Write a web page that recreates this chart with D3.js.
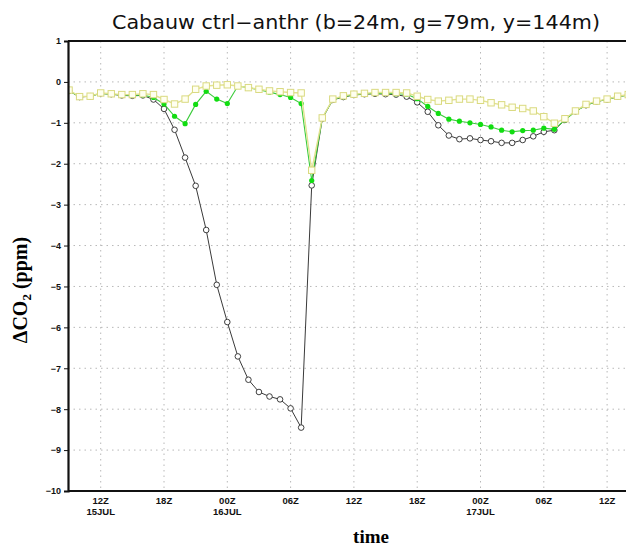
<!DOCTYPE html>
<html>
<head>
<meta charset="utf-8">
<script src="https://cdn.jsdelivr.net/npm/d3@7"></script>
<style>
  html, body { margin: 0; padding: 0; background: #fff; }
  svg { display: block; }
</style>
</head>
<body>
<div id="chart"></div>
<script>
// ---- data (hourly, starting 09Z 15JUL) ----
const startTime = "2000-07-15T09:00:00Z";
const seriesNames = ["b=24m", "g=79m", "y=144m"];
const blackValues = [-0.22,-0.37,-0.35,-0.28,-0.30,-0.33,-0.34,-0.33,-0.43,-0.66,-1.17,-1.85,-2.54,-3.62,-4.96,-5.87,-6.71,-7.28,-7.58,-7.69,-7.76,-7.98,-8.45,-2.53,-0.90,-0.44,-0.37,-0.32,-0.30,-0.29,-0.30,-0.31,-0.36,-0.50,-0.73,-1.06,-1.31,-1.40,-1.38,-1.42,-1.45,-1.49,-1.49,-1.42,-1.33,-1.22,-1.18,-0.93,-0.72,-0.57,-0.48,-0.43,-0.36,-0.32];
const greenValues = [-0.22,-0.36,-0.35,-0.28,-0.30,-0.32,-0.33,-0.32,-0.38,-0.54,-0.84,-1.02,-0.55,-0.23,-0.42,-0.53,-0.10,-0.14,-0.19,-0.25,-0.31,-0.38,-0.53,-2.41,-0.89,-0.43,-0.36,-0.31,-0.29,-0.28,-0.28,-0.29,-0.30,-0.41,-0.60,-0.77,-0.91,-0.96,-1.00,-1.04,-1.10,-1.18,-1.22,-1.19,-1.18,-1.13,-1.16,-0.93,-0.72,-0.57,-0.48,-0.43,-0.36,-0.32];
const yellowValues = [-0.20,-0.36,-0.35,-0.27,-0.29,-0.31,-0.31,-0.29,-0.31,-0.43,-0.54,-0.42,-0.18,-0.10,-0.08,-0.07,-0.10,-0.14,-0.18,-0.22,-0.24,-0.26,-0.27,-2.16,-0.88,-0.42,-0.34,-0.30,-0.28,-0.26,-0.26,-0.26,-0.27,-0.35,-0.43,-0.47,-0.45,-0.42,-0.42,-0.45,-0.51,-0.56,-0.62,-0.65,-0.71,-0.85,-1.01,-0.90,-0.71,-0.55,-0.47,-0.42,-0.35,-0.31];
const xTickTimes = ["2000-07-15T12:00:00Z","2000-07-15T18:00:00Z","2000-07-16T00:00:00Z","2000-07-16T06:00:00Z","2000-07-16T12:00:00Z","2000-07-16T18:00:00Z","2000-07-17T00:00:00Z","2000-07-17T06:00:00Z","2000-07-17T12:00:00Z"];
const xTickLabels = ["12Z","18Z","00Z","06Z","12Z","18Z","00Z","06Z","12Z"];
const xTickDates = ["15JUL","","16JUL","","","","17JUL","",""];
const yTicks = [1,0,-1,-2,-3,-4,-5,-6,-7,-8,-9,-10];
const titleText = "Cabauw ctrl\u2212anthr (b=24m, g=79m, y=144m)";
const yLabelText = "\u0394CO";
const xLabelText = "time";

// ---- layout ----
const W = 626, H = 548;
const plot = { left: 68, right: 627, top: 41, bottom: 491 };
const t0 = new Date(startTime);
const hour = 3600 * 1000;
const times = blackValues.map((_, i) => new Date(t0.getTime() + i * hour));

const x = d3.scaleUtc()
  .domain([new Date(t0.getTime() - 0.1 * hour), new Date(t0.getTime() + 52.9 * hour)])
  .range([plot.left, plot.left + 53 * 10.55]);
const y = d3.scaleLinear().domain([-10, 1]).range([plot.bottom, plot.top]);

const svg = d3.select("#chart").append("svg")
  .attr("width", W).attr("height", H)
  .style("background", "#fff");

svg.append("defs").append("clipPath").attr("id", "clip")
  .append("rect").attr("x", plot.left).attr("y", plot.top - 5)
  .attr("width", W - plot.left).attr("height", plot.bottom - plot.top + 10);

// gridlines
const grid = svg.append("g");
grid.selectAll("line.h").data(yTicks.filter(v => v !== 1 && v !== -10)).join("line")
  .attr("x1", plot.left).attr("x2", W)
  .attr("y1", d => y(d)).attr("y2", d => y(d))
  .attr("stroke", "#b8b8b8").attr("stroke-width", 1).attr("stroke-dasharray", "1.5,4");
grid.selectAll("line.v").data(xTickTimes).join("line")
  .attr("x1", d => x(new Date(d))).attr("x2", d => x(new Date(d)))
  .attr("y1", plot.top).attr("y2", plot.bottom)
  .attr("stroke", "#b8b8b8").attr("stroke-width", 1).attr("stroke-dasharray", "1.5,4");

// series
const layer = svg.append("g").attr("clip-path", "url(#clip)");
const lineGen = vals => d3.line().x((d, i) => x(times[i])).y(d => y(d))(vals);

// black
layer.append("path").attr("d", lineGen(blackValues))
  .attr("fill", "none").attr("stroke", "#3a3a3a").attr("stroke-width", 1);
layer.selectAll("circle.b").data(blackValues).join("circle")
  .attr("cx", (d, i) => x(times[i])).attr("cy", d => y(d)).attr("r", 2.8)
  .attr("fill", "#fff").attr("stroke", "#2a2a2a").attr("stroke-width", 0.9);

// green
layer.append("path").attr("d", lineGen(greenValues))
  .attr("fill", "none").attr("stroke", "#3ccc3c").attr("stroke-width", 1.1);
layer.selectAll("circle.g").data(greenValues).join("circle")
  .attr("cx", (d, i) => x(times[i])).attr("cy", d => y(d)).attr("r", 2.6)
  .attr("fill", "#11dd11").attr("stroke", "none");

// yellow
layer.append("path").attr("d", lineGen(yellowValues))
  .attr("fill", "none").attr("stroke", "#e2e290").attr("stroke-width", 1.4);
layer.selectAll("rect.y").data(yellowValues).join("rect")
  .attr("x", (d, i) => x(times[i]) - 3.2).attr("y", d => y(d) - 3.2)
  .attr("width", 6.4).attr("height", 6.4)
  .attr("fill", "#fffff0").attr("stroke", "#dada80").attr("stroke-width", 1);

// frame lines
svg.append("line").attr("x1", plot.left).attr("x2", W).attr("y1", plot.top).attr("y2", plot.top)
  .attr("stroke", "#111").attr("stroke-width", 2.2);
svg.append("line").attr("x1", plot.left).attr("x2", W).attr("y1", plot.bottom).attr("y2", plot.bottom)
  .attr("stroke", "#111").attr("stroke-width", 2.2);

// y axis
const yAxis = svg.append("g").attr("transform", `translate(${plot.left},0)`)
  .call(d3.axisLeft(y).tickValues(yTicks).tickSize(4).tickPadding(3)
    .tickFormat(d => d < 0 ? "\u2212" + Math.abs(d) : String(d)));
yAxis.select(".domain").attr("stroke", "#111").attr("stroke-width", 2.2);
yAxis.selectAll(".tick line").attr("stroke", "#111").attr("stroke-width", 1);
yAxis.selectAll(".tick text")
  .attr("font-family", "'Liberation Sans Narrow','Arial Narrow','Liberation Sans',Arial,sans-serif")
  .attr("font-size", 9).attr("font-weight", "bold").attr("fill", "#111");

// x axis labels
const xl = svg.append("g");
xl.selectAll("text.t").data(xTickTimes).join("text")
  .attr("x", d => x(new Date(d))).attr("y", 504)
  .attr("text-anchor", "middle")
  .attr("font-family", "'Liberation Sans Narrow','Arial Narrow','Liberation Sans',Arial,sans-serif")
  .attr("font-size", 9.5).attr("font-weight", "bold").attr("fill", "#111")
  .text((d, i) => xTickLabels[i]);
xl.selectAll("text.d").data(xTickTimes).join("text")
  .attr("x", d => x(new Date(d))).attr("y", 515)
  .attr("text-anchor", "middle")
  .attr("font-family", "'Liberation Sans Narrow','Arial Narrow','Liberation Sans',Arial,sans-serif")
  .attr("font-size", 9.5).attr("font-weight", "bold").attr("fill", "#111")
  .text((d, i) => xTickDates[i]);

// title
svg.append("text").attr("x", 356).attr("y", 29)
  .attr("text-anchor", "middle")
  .attr("font-family", "'DejaVu Sans',sans-serif")
  .attr("font-size", 19).attr("font-weight", "normal").attr("fill", "#111")
  .attr("textLength", 488).attr("lengthAdjust", "spacingAndGlyphs")
  .text(titleText);

// y label
const yl = svg.append("text")
  .attr("transform", "translate(27,290) rotate(-90)")
  .attr("text-anchor", "middle")
  .attr("font-family", "'Liberation Serif','Times New Roman',serif")
  .attr("font-size", 20).attr("font-weight", "bold").attr("fill", "#000");
yl.append("tspan").text(yLabelText);
yl.append("tspan").attr("font-size", 13).attr("dy", 4).text("2");
yl.append("tspan").attr("dy", -4).text(" (ppm)");

// x label
svg.append("text").attr("x", 371).attr("y", 543)
  .attr("text-anchor", "middle")
  .attr("font-family", "'Liberation Serif','Times New Roman',serif")
  .attr("font-size", 19).attr("font-weight", "bold").attr("fill", "#000")
  .text(xLabelText);
</script>
</body>
</html>
